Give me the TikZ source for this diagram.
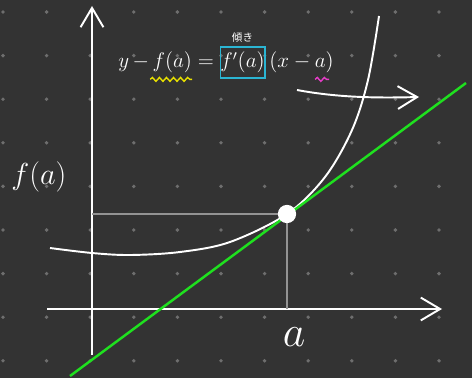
\documentclass[tikz,border=0pt]{standalone}
\usepackage{fontspec}
\usepackage{amsmath}
\newfontfamily\jpfont{Noto Sans CJK JP}
\usetikzlibrary{arrows.meta, calc, decorations.pathmorphing, positioning}
\definecolor{board}{HTML}{333333}
\definecolor{boarddot}{HTML}{6E6E6E}
\definecolor{tangent}{HTML}{1FE01F}
\definecolor{slopebox}{HTML}{2BB5D3}
\definecolor{markyellow}{HTML}{E8E000}
\definecolor{markpink}{HTML}{E63CC8}

\begin{document}
\begin{tikzpicture}[x=0.02cm, y=-0.02cm,
    chalk/.style={white, line width=1.1pt},
    barb/.style={-{Straight Barb[length=11pt, width=13pt, line width=1.1pt]}},
    guide/.style={gray!85!white, line width=1.1pt},
    squiggle/.style={line width=0.8pt, decorate, decoration={snake, amplitude=1.1pt, segment length=4pt}},
    txt/.style={white, inner sep=0pt}]
    % board
    \fill[board] (0,0) rectangle (472,378);
    \useasboundingbox (0,0) rectangle (472,378);
    \foreach \i in {0,...,10} {
        \foreach \j in {0,...,8} {
            \fill[boarddot] (3+\i*43.6, 12+\j*43.6) circle (1.1pt);
        }
    }
    % axes
    \coordinate (xstart) at (47,309);
    \coordinate (xend) at (442,309);
    \coordinate (ystart) at (92,355);
    \coordinate (yend) at (92,6);
    \draw[chalk, barb] (xstart) -- (xend);
    \draw[chalk, barb] (ystart) -- (yend);
    % point of contact and its guides
    \coordinate (P) at (287,214);
    \coordinate (Px) at (287,309);
    \coordinate (Py) at (92,214);
    \draw[guide] (Py) -- (P) -- (Px);
    % curve y = f(x)
    \draw[chalk] plot[smooth, tension=0.55] coordinates {(50,248) (92,253) (130,255) (180,252)
        (230,242) (287,214) (325,177) (352,130) (368,80) (379,16)};
    % tangent line
    \coordinate (tanA) at (70,376);
    \coordinate (tanB) at (466,83);
    \draw[tangent, line width=1.4pt] (tanA) -- (tanB);
    \fill[white] (P) circle (5.2pt);
    % labels
    \node[txt] (fa) at (39,177) {\fontsize{17}{17}\selectfont $f(a)$};
    \node[txt] (a) at (294,337) {\fontsize{36}{36}\selectfont $a$};
    % equation of the tangent
    \node[txt, draw=slopebox, line width=1pt, minimum width=23pt, minimum height=17.5pt] (slope) at (242.5,62.5)
        {\fontsize{12}{12}\selectfont $f'(a)$};
    \node[txt, left=3pt of slope] (eqL) {\fontsize{12}{12}\selectfont $y\,{-}\,f(a) =$};
    \node[txt, right=2pt of slope] (eqR) {\fontsize{12}{12}\selectfont $(x - a)$};
    \node[txt, above=2pt of slope] (slopename) {\jpfont\fontsize{6}{6}\selectfont 傾き};
    \draw[markyellow, squiggle] ($(eqL.south east)+(-64,6)$) -- ++(42,0);
    \draw[markpink, squiggle] ($(eqR.south east)+(-19,6)$) -- ++(14,0);
    % bent arrow
    \coordinate (bendS) at (297,90);
    \coordinate (bendE) at (419,97);
    \draw[chalk, barb] (bendS) .. controls (340,98) and (380,98) .. (bendE);
\end{tikzpicture}
\end{document}
